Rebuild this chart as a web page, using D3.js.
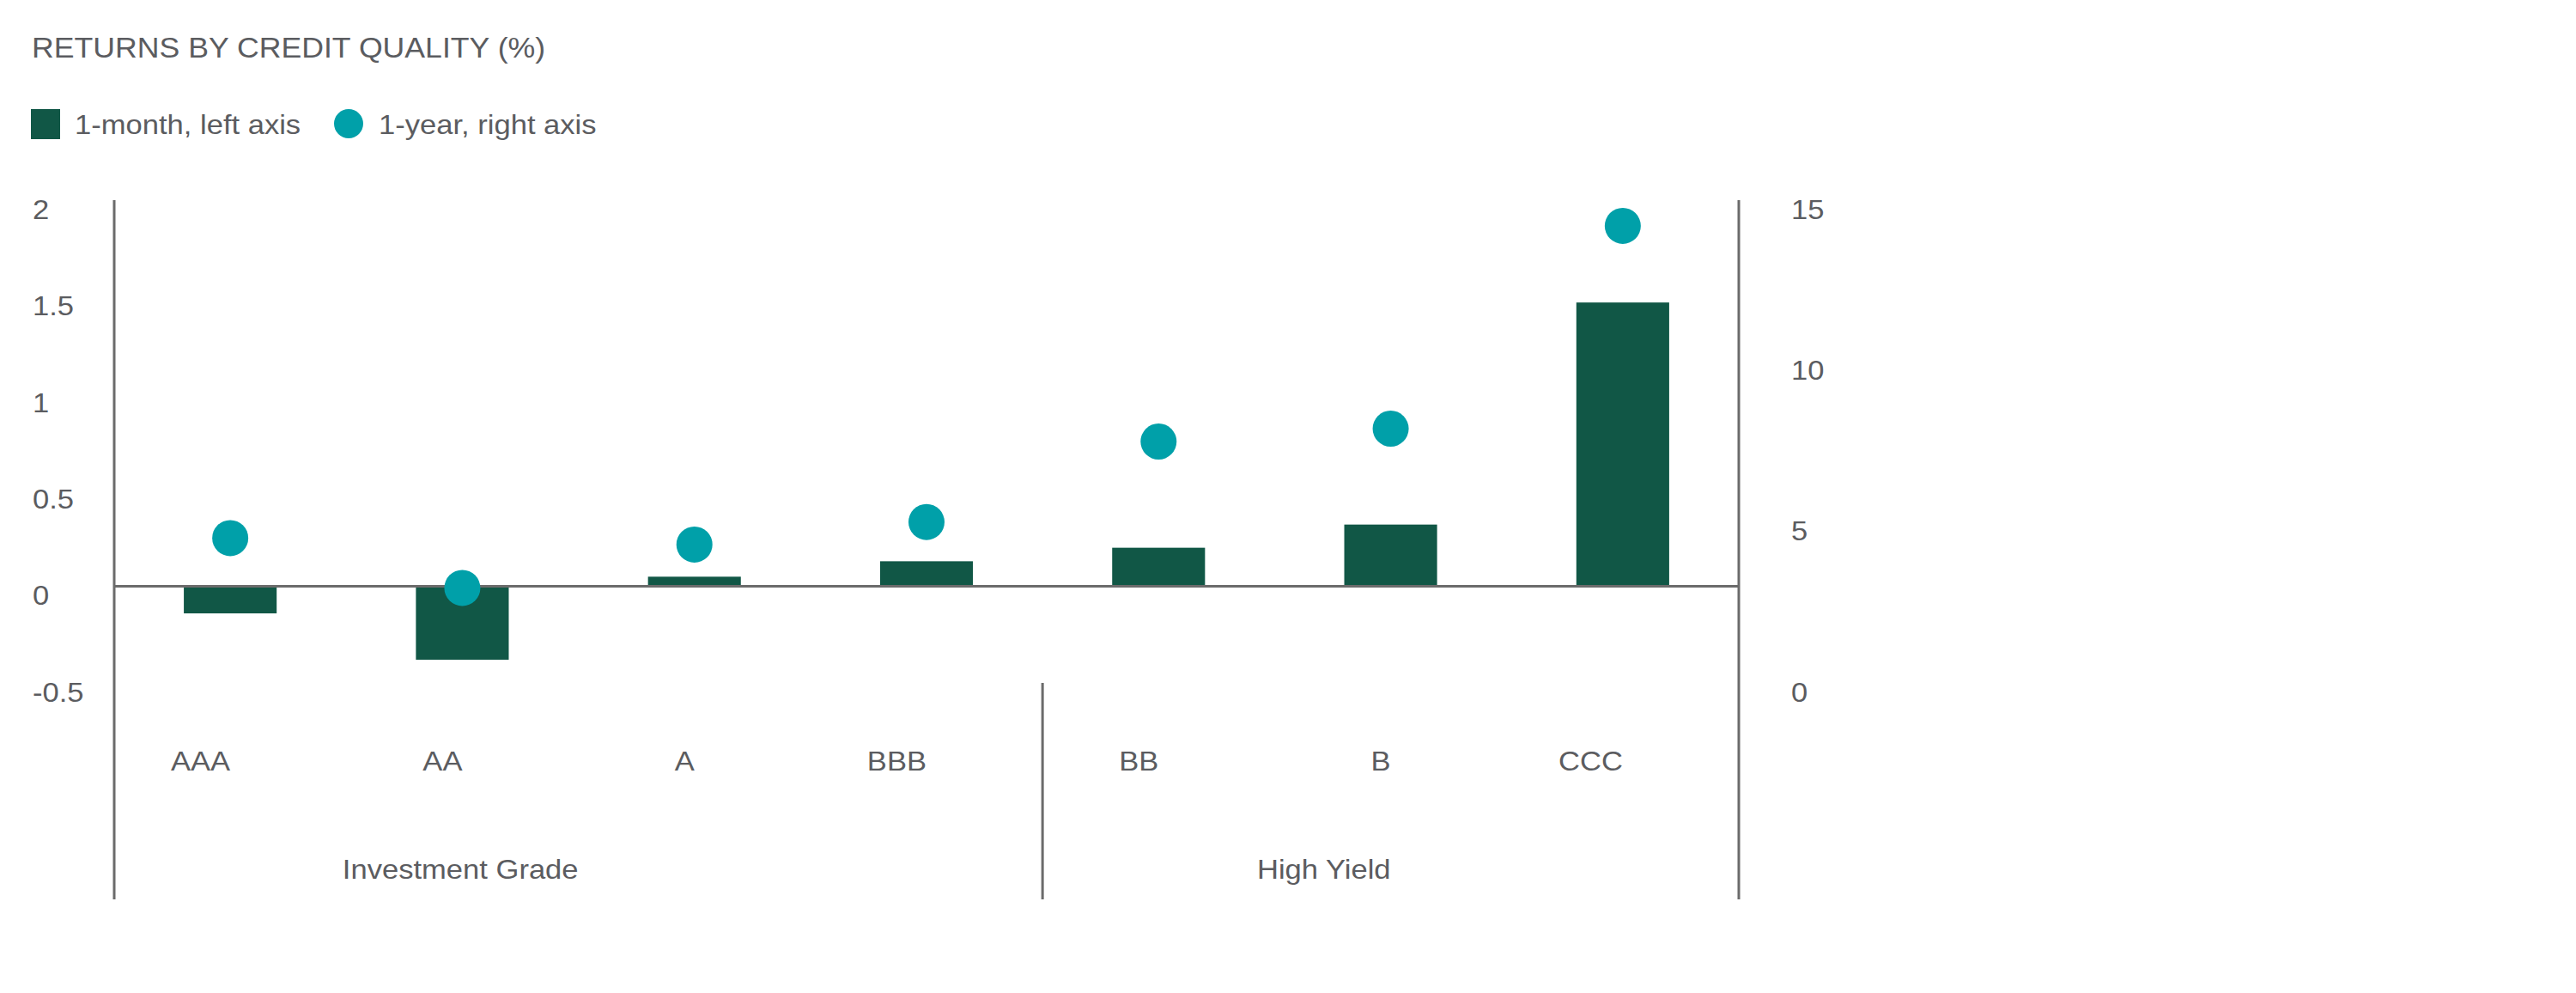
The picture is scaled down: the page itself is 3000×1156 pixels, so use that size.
<!DOCTYPE html>
<html>
<head>
<meta charset="utf-8">
<script src="https://cdn.jsdelivr.net/npm/d3@7"></script>
<style>
  html, body { margin: 0; padding: 0; background: #fff; }
  svg { display: block; font-family: "Liberation Sans", Arial, sans-serif; }
</style>
</head>
<body>
<svg id="chart"></svg>
<script>
const width = 3000;
const height = 1156;

// data
const categories = ["AAA", "AA", "A", "BBB", "BB", "B", "CCC"];
const oneMonth = [-0.14, -0.38, 0.05, 0.13, 0.20, 0.32, 1.47];
const oneYear = [4.5, 2.95, 4.3, 5.0, 7.5, 7.9, 14.2];
const groups = [
  { name: "Investment Grade", from: "AAA", to: "BBB" },
  { name: "High Yield", from: "BB", to: "CCC" }
];
const leftTicks = [-0.5, 0, 0.5, 1, 1.5, 2];
const rightTicks = [0, 5, 10, 15];

const textColor = "#5b5c60";
const lineColor = "#6b6b6b";
const barColor = "#115746";
const dotColor = "#00a0a9";

const plotLeft = 133, plotRight = 2025, plotTop = 233, plotBottom = 795, axisBottom = 1047;

const svg = d3.select("#chart")
  .attr("width", width)
  .attr("height", height)
  .attr("viewBox", [0, 0, width, height]);

const x = d3.scaleBand()
  .domain(categories)
  .range([plotLeft, plotRight]);

const yLeft = d3.scaleLinear()
  .domain([-0.5, 2])
  .range([plotBottom, plotTop]);

const yRight = d3.scaleLinear()
  .domain([0, 15])
  .range([plotBottom, plotTop]);

const fmt = d => String(d);

// title + legend
svg.append("text")
  .attr("x", 37)
  .attr("y", 67)
  .attr("fill", textColor)
  .style("font-size", "33px")
  .text("RETURNS BY CREDIT QUALITY (%)");

const legend = svg.append("g").attr("fill", textColor).style("font-size", "32px");
legend.append("rect")
  .attr("x", 36).attr("y", 127)
  .attr("width", 34).attr("height", 35)
  .attr("fill", barColor);
legend.append("text").attr("x", 87).attr("y", 156).text("1-month, left axis");
legend.append("circle")
  .attr("cx", 406).attr("cy", 144).attr("r", 17)
  .attr("fill", dotColor);
legend.append("text").attr("x", 441).attr("y", 156).text("1-year, right axis");

// axis labels (no tick marks)
const leftAxis = svg.append("g")
  .attr("transform", "translate(38,11)")
  .call(d3.axisRight(yLeft).tickValues(leftTicks).tickFormat(fmt).tickSize(0).tickPadding(0));

const rightAxis = svg.append("g")
  .attr("transform", "translate(2086,11)")
  .call(d3.axisRight(yRight).tickValues(rightTicks).tickFormat(fmt).tickSize(0).tickPadding(0));

[leftAxis, rightAxis].forEach(g => {
  g.select(".domain").remove();
  g.selectAll("text")
    .attr("fill", textColor)
    .style("font-size", "32px")
    .style("font-family", "'Liberation Sans', Arial, sans-serif");
});

// bars
svg.append("g")
  .selectAll("rect")
  .data(categories)
  .join("rect")
  .attr("x", (d, i) => x(d) + x.bandwidth() * 0.3)
  .attr("width", x.bandwidth() * 0.4)
  .attr("y", (d, i) => yLeft(Math.max(0, oneMonth[i])))
  .attr("height", (d, i) => Math.abs(yLeft(oneMonth[i]) - yLeft(0)))
  .attr("fill", barColor);

// zero line
svg.append("line")
  .attr("x1", plotLeft).attr("x2", plotRight)
  .attr("y1", yLeft(0)).attr("y2", yLeft(0))
  .attr("stroke", lineColor).attr("stroke-width", 3);

// dots
svg.append("g")
  .selectAll("circle")
  .data(categories)
  .join("circle")
  .attr("cx", d => x(d) + x.bandwidth() / 2)
  .attr("cy", (d, i) => yRight(oneYear[i]))
  .attr("r", 21)
  .attr("fill", dotColor);

// vertical axis lines and group separator
const vlines = [plotLeft, plotRight];
svg.append("g")
  .selectAll("line")
  .data(vlines)
  .join("line")
  .attr("x1", d => d).attr("x2", d => d)
  .attr("y1", plotTop).attr("y2", axisBottom)
  .attr("stroke", lineColor).attr("stroke-width", 3);

const sep = x(groups[1].from);
svg.append("line")
  .attr("x1", sep).attr("x2", sep)
  .attr("y1", plotBottom).attr("y2", axisBottom)
  .attr("stroke", lineColor).attr("stroke-width", 3);

// category labels, right-aligned at band centre
const catAxis = svg.append("g")
  .attr("transform", "translate(0,897)")
  .call(d3.axisBottom(x).tickSize(0).tickPadding(0));
catAxis.select(".domain").remove();
catAxis.selectAll("text")
  .attr("dy", 0)
  .attr("text-anchor", "end")
  .attr("fill", textColor)
  .style("font-size", "32px")
  .style("font-family", "'Liberation Sans', Arial, sans-serif");

// group labels
svg.append("g")
  .selectAll("text")
  .data(groups)
  .join("text")
  .attr("x", d => (x(d.from) + x(d.to) + x.bandwidth()) / 2)
  .attr("y", 1023)
  .attr("text-anchor", "end")
  .attr("fill", textColor)
  .style("font-size", "32px")
  .text(d => d.name);

// the source type is a little wider than Liberation Sans
svg.selectAll("text").each(function() {
  const w = this.getComputedTextLength();
  d3.select(this)
    .attr("textLength", w * 1.08)
    .attr("lengthAdjust", "spacingAndGlyphs");
});
</script>
</body>
</html>
